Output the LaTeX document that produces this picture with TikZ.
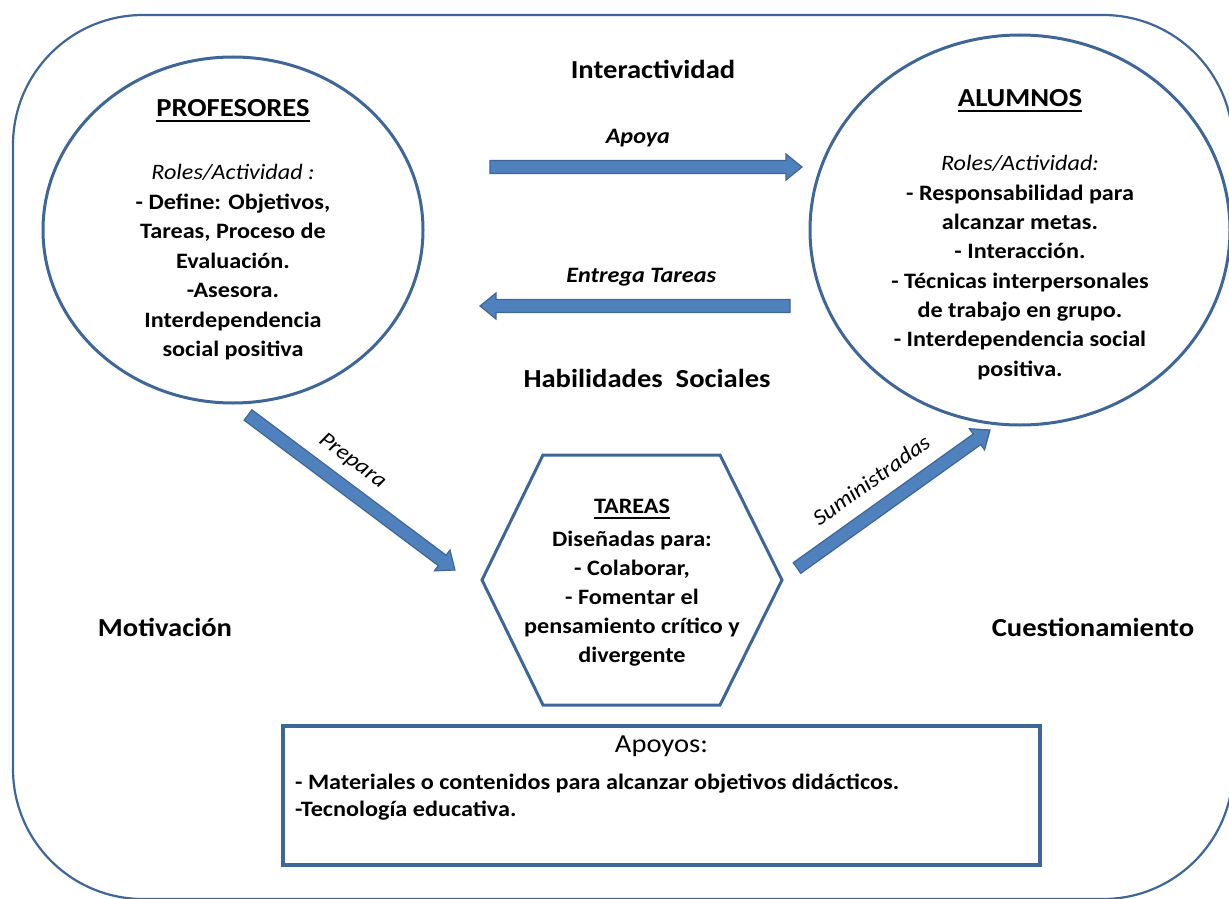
\documentclass[tikz,border=0pt]{standalone}
\usepackage{fontspec}
\setmainfont{Carlito}[FakeStretch=1.1]
\usetikzlibrary{shapes.geometric,positioning,calc}

\definecolor{linea}{RGB}{62,102,152}
\definecolor{relleno}{RGB}{79,129,189}

% underlined titles
\newcommand\subr[1]{\vtop{\hbox{#1}\kern3pt\hrule height 1.6pt}}
% block arrow from #1 (tail) to #2 (tip)
\newcommand\flecha[2]{%
  \coordinate (hb) at ($(#2)!16pt!(#1)$);
  \filldraw[bloque] ($(#1)!6.5pt!90:(#2)$) -- ($(hb)!6.5pt!-90:(#1)$) -- ($(hb)!13pt!-90:(#1)$)
      -- (#2) -- ($(hb)!13pt!90:(#1)$) -- ($(hb)!6.5pt!90:(#1)$) -- ($(#1)!6.5pt!-90:(#2)$) -- cycle;}

\begin{document}
\begin{tikzpicture}[x=1pt, y=-1pt,
        marco/.style={draw=linea, line width=2.2pt, rounded corners=130pt, minimum width=1220pt, minimum height=884pt},
        circulo/.style={ellipse, draw=linea, line width=3pt},
        texto/.style={align=center, inner sep=0, font=\fontsize{22}{29.5}\selectfont\bfseries},
        rotulo/.style={inner sep=0, font=\fontsize{26}{30}\selectfont\bfseries},
        etiq/.style={inner sep=0, font=\fontsize{22}{26}\selectfont\bfseries\itshape},
        inclin/.style={inner sep=0, sloped, font=\fontsize{22}{26}\selectfont\itshape},
        bloque/.style={draw=linea, fill=relleno, line width=1.2pt, line join=miter},
        hexa/.style={draw=linea, line width=3pt, line join=miter},
        caja/.style={draw=linea, line width=4pt, minimum width=757pt, minimum height=139pt}]

    \useasboundingbox (0,0) rectangle (1229,899);
    \clip (0,0) rectangle (1229,899);

    \node[marco]                                              (fondo) at (623,457)   {};
    \node[circulo, minimum width=380pt, minimum height=346pt] (prof)  at (233,230)   {};
    \node[circulo, minimum width=420pt, minimum height=390pt] (alum)  at (1020,230)  {};
    \coordinate                                               (tareas) at (632,580);
    \draw[hexa] ([shift={(-89,-125)}]tareas) -- ([shift={(88,-125)}]tareas) -- ([shift={(150,0)}]tareas)
        -- ([shift={(88,125)}]tareas) -- ([shift={(-89,125)}]tareas) -- ([shift={(-150,0)}]tareas) -- cycle;
    \node[caja]                                               (apoyos) at (661.5,795.5) {};

    % texts of the shapes
    \node[texto] (proft) at (233,230) {{\fontsize{26}{29.5}\selectfont\subr{PROFESORES}}\\[33.5pt]
        {\mdseries\itshape Roles/Actividad :}\\ - Define: Objetivos,\\ Tareas, Proceso de\\ Evaluación.\\
        -Asesora.\\ Interdependencia\\ social positiva};
    \node[texto, font=\fontsize{22}{29.3}\selectfont\bfseries] (alumt) at (1020,234.7) {{\fontsize{26}{29.3}\selectfont\subr{ALUMNOS}}\\[34.7pt]
        {\mdseries\itshape Roles/Actividad:}\\ - Responsabilidad para\\ alcanzar metas.\\ - Interacción.\\
        - Técnicas interpersonales\\ de trabajo en grupo.\\ - Interdependencia social\\ positiva.};
    \node[texto, font=\fontsize{22}{29}\selectfont\bfseries] (tart) at ([yshift=-3pt]tareas) {\subr{TAREAS}\\[4pt]
        Diseñadas para:\\ - Colaborar,\\ - Fomentar el\\ pensamiento crítico y\\ divergente};
    \node[rotulo, font=\fontsize{26}{30}\selectfont, below=11.5pt of apoyos.north] (apot) {Apoyos:};
    \node[texto, align=left, font=\fontsize{22}{27}\selectfont\bfseries, anchor=north west] (apol)
        at ([shift={(14,50)}]apoyos.north west) {- Materiales o contenidos para alcanzar objetivos didácticos.\\ -Tecnología educativa.};

    % free labels
    \node[rotulo] (inter) at (653,69)   {Interactividad};
    \node[rotulo] (habil) at (647,378)  {Habilidades\ \ Sociales};
    \node[rotulo] (motiv) at (165,627)  {Motivación};
    \node[rotulo] (cuest) at (1093,627) {Cuestionamiento};

    % block arrows
    \coordinate (a1) at (490,167);  \coordinate (a2) at (802,167);
    \coordinate (e1) at (790,306);  \coordinate (e2) at (480,306);
    \coordinate (p1) at (248,415);  \coordinate (p2) at (455,570);
    \coordinate (s1) at (797,568);  \coordinate (s2) at (990,430);
    \flecha{a1}{a2}
    \flecha{e1}{e2}
    \flecha{p1}{p2}
    \flecha{s1}{s2}

    \path (a1) -- node[etiq, above=20pt, pos=0.474]   {Apoya}          (a2);
    \path (e1) -- node[etiq, above=20pt, pos=0.48]    {Entrega Tareas} (e2);
    \path (p1) -- node[inclin, above=16.5pt, pos=0.43] {Prepara}       (p2);
    \path (s1) -- node[inclin, above=20.4pt, pos=0.47] {Suministradas} (s2);
\end{tikzpicture}
\end{document}
